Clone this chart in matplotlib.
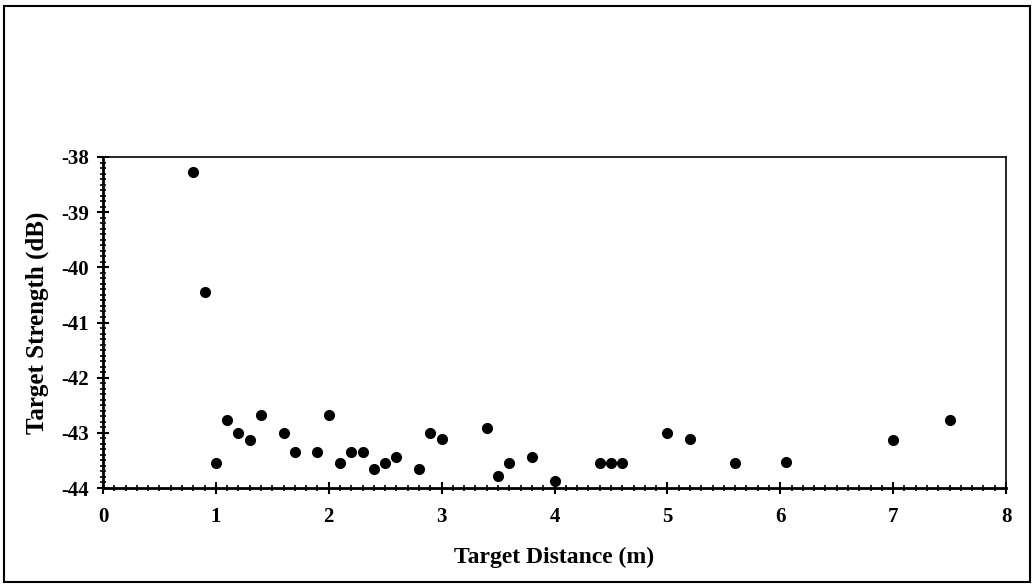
import matplotlib.pyplot as plt
from matplotlib.patches import Rectangle
from matplotlib.ticker import MultipleLocator

# target distance (m) and measured target strength (dB)
distance = [0.8, 0.9, 1.0, 1.1, 1.2, 1.3, 1.4, 1.6, 1.7, 1.9, 2.0, 2.1, 2.2, 2.3,
            2.4, 2.5, 2.6, 2.8, 2.9, 3.0, 3.4, 3.5, 3.6, 3.8, 4.0, 4.4, 4.5, 4.6,
            5.0, 5.2, 5.6, 6.05, 7.0, 7.5]
strength = [-38.28, -40.45, -43.54, -42.77, -43.01, -43.13, -42.68, -43.01, -43.34,
            -43.34, -42.68, -43.54, -43.34, -43.34, -43.66, -43.54, -43.43, -43.66,
            -43.01, -43.12, -42.91, -43.78, -43.54, -43.43, -43.87, -43.54, -43.54,
            -43.54, -43.01, -43.12, -43.54, -43.53, -43.13, -42.77]

x_ticks = [0, 1, 2, 3, 4, 5, 6, 7, 8]
y_ticks = [-44, -43, -42, -41, -40, -39, -38]

plt.rcParams['font.family'] = ['Liberation Serif', 'DejaVu Serif']
plt.rcParams['font.weight'] = 'bold'
plt.rcParams['axes.unicode_minus'] = False

fig = plt.figure(figsize=(10.33, 5.85), dpi=100)
fig.patches.append(Rectangle((4 / 1033, 3 / 585), 1026 / 1033, 576 / 585,
                             transform=fig.transFigure, fill=False,
                             edgecolor='black', linewidth=1.5))

ax = fig.add_axes([103 / 1033, 97 / 585, 903 / 1033, 331 / 585])
ax.plot(distance, strength, 'o', color='black', markersize=7, clip_on=False)

ax.set_xlim(0, 8)
ax.set_ylim(-44, -38)
ax.set_xticks(x_ticks)
ax.set_yticks(y_ticks)
ax.xaxis.set_minor_locator(MultipleLocator(0.1))
ax.yaxis.set_minor_locator(MultipleLocator(0.1))
ax.tick_params(which='major', direction='inout', length=8, width=1.5,
               labelsize=15)
ax.tick_params(axis='x', which='major', pad=10)
ax.tick_params(axis='y', which='major', pad=6)
ax.tick_params(which='minor', direction='inout', length=5, width=1.2)
ax.tick_params(top=False, right=False)

for side in ['left', 'bottom']:
    ax.spines[side].set_linewidth(2)
for side in ['top', 'right']:
    ax.spines[side].set_linewidth(1.2)

ax.set_xlabel('Target Distance (m)', fontsize=17, fontweight='bold', labelpad=14)
ax.set_ylabel('Target Strength (dB)', fontsize=18, fontweight='bold', labelpad=9)

fig.savefig('out.png', dpi=100)
